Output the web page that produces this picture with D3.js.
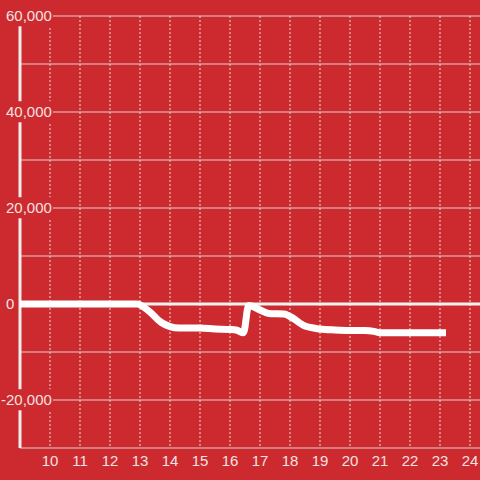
<!DOCTYPE html>
<html>
<head>
<meta charset="utf-8">
<script src="https://cdn.jsdelivr.net/npm/d3@7"></script>
<style>
  html, body { margin: 0; padding: 0; background: #cd2a2f; }
  svg { display: block; font-family: "Liberation Sans", Arial, sans-serif; }
</style>
</head>
<body>
<script>
// data
var hours = [9, 10, 11, 12, 12.9, 13.3, 13.7, 14, 14.3, 15, 15.5, 16, 16.2, 16.45, 16.62, 17, 17.3, 17.8, 18, 18.5, 19, 19.5, 20, 20.5, 20.8, 21, 22, 23.2];
var values = [0, 0, 0, 0, 0, -1500, -3800, -4700, -5000, -5000, -5200, -5300, -5400, -6000, -300, -1250, -2000, -2100, -2600, -4600, -5200, -5400, -5500, -5500, -5700, -6000, -6000, -6000];
var xTicks = [10, 11, 12, 13, 14, 15, 16, 17, 18, 19, 20, 21, 22, 23, 24];
var yGrid = [-30000, -20000, -10000, 0, 10000, 20000, 30000, 40000, 50000, 60000];
var yLabels = [-20000, 0, 20000, 40000, 60000];

var width = 480, height = 480;
var bg = '#cd2a2f';
var textColor = '#f3e2e2';

var x = d3.scaleLinear().domain([9, 25]).range([20, 500]);
var y = d3.scaleLinear().domain([-30000, 60000]).range([448, 16]);

var svg = d3.select('body').append('svg')
    .attr('width', width)
    .attr('height', height);

svg.append('rect')
    .attr('width', width)
    .attr('height', height)
    .attr('fill', bg);

// horizontal grid
svg.selectAll('.hgrid')
  .data(yGrid)
  .enter()
  .append('line')
    .attr('x1', 20)
    .attr('x2', width)
    .attr('y1', function(d) { return y(d); })
    .attr('y2', function(d) { return y(d); })
    .attr('stroke', '#d9d2d2')
    .attr('stroke-width', 1);

// vertical dotted grid
svg.selectAll('.vgrid')
  .data(xTicks)
  .enter()
  .append('line')
    .attr('x1', function(d) { return x(d); })
    .attr('x2', function(d) { return x(d); })
    .attr('y1', y(60000))
    .attr('y2', y(-30000))
    .attr('stroke', '#e6dcdc')
    .attr('stroke-width', 1)
    .attr('stroke-dasharray', '2,2');

// y axis line
svg.append('line')
    .attr('x1', 20).attr('x2', 20)
    .attr('y1', y(60000)).attr('y2', y(-30000))
    .attr('stroke', '#f3eeee')
    .attr('stroke-width', 3);

// zero line
svg.append('line')
    .attr('x1', 20).attr('x2', width)
    .attr('y1', y(0)).attr('y2', y(0))
    .attr('stroke', '#f7f3f3')
    .attr('stroke-width', 3);

// data line
var line = d3.line()
    .x(function(d, i) { return x(hours[i]); })
    .y(function(d) { return y(d); })
    .curve(d3.curveMonotoneX);

svg.append('path')
    .datum(values)
    .attr('d', line)
    .attr('fill', 'none')
    .attr('stroke', '#ffffff')
    .attr('stroke-width', 7)
    .attr('stroke-linejoin', 'round');

// y labels with background boxes
var fmt = d3.format(',');
var yl = svg.selectAll('.ylab')
  .data(yLabels)
  .enter()
  .append('g')
    .attr('transform', function(d) { return 'translate(' + (d < 0 ? 1 : 6) + ',' + y(d) + ')'; });

yl.append('text')
    .attr('text-anchor', 'start')
    .attr('dy', '0.35em')
    .attr('font-size', 15)
    .attr('fill', textColor)
    .text(function(d) { return fmt(d).replace('−', '-'); })
    .each(function() {
      var b = this.getBBox();
      d3.select(this.parentNode).insert('rect', 'text')
        .attr('x', b.x - 1)
        .attr('y', b.y - 2)
        .attr('width', b.width + 2)
        .attr('height', b.height + 4)
        .attr('fill', bg);
    });

// x labels
svg.selectAll('.xlab')
  .data(xTicks)
  .enter()
  .append('text')
    .attr('x', function(d) { return x(d); })
    .attr('y', 461)
    .attr('dy', '0.35em')
    .attr('text-anchor', 'middle')
    .attr('font-size', 15)
    .attr('fill', textColor)
    .text(function(d) { return d; });
</script>
</body>
</html>
